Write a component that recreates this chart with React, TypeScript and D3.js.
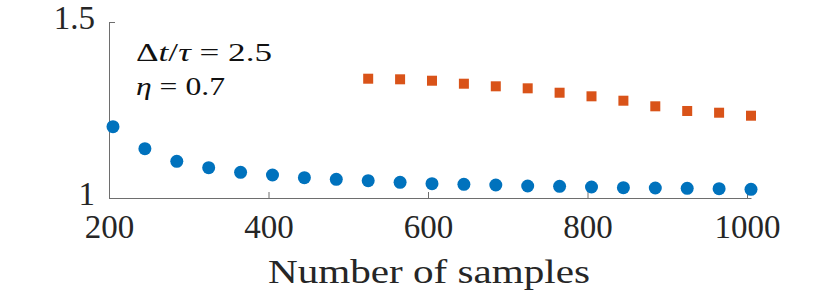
import { useEffect, useRef } from "react";
import * as d3 from "d3";

// sample counts for each marker
const samplesA = [205, 245, 285, 325, 365, 405, 445, 485, 525, 565, 605, 645, 685, 725, 765, 805, 845, 885, 925, 965, 1005];
const valuesA = [1.2026, 1.1401, 1.1043, 1.0861, 1.073, 1.0653, 1.0577, 1.0531, 1.0492, 1.0446, 1.0407, 1.0389, 1.0369, 1.0341, 1.0332, 1.0313, 1.0293, 1.0284, 1.0275, 1.0264, 1.0247];

const samplesB = [525, 565, 605, 645, 685, 725, 765, 805, 845, 885, 925, 965, 1005];
const valuesB = [1.3389, 1.3372, 1.3332, 1.3247, 1.3173, 1.3116, 1.2991, 1.2889, 1.2764, 1.2605, 1.2472, 1.2423, 1.2338];

const xTicks = [200, 400, 600, 800, 1000];
const yTicks = [1, 1.5];

const width = 830;
const height = 298;
const margin = { top: 22, right: 79, bottom: 100, left: 109 };

const font = "'Liberation Serif', serif";

export default function App() {
    const ref = useRef<SVGSVGElement>(null);

    useEffect(() => {
        const svg = d3.select(ref.current);
        svg.selectAll("*").remove();

        const x = d3.scaleLinear()
            .domain([200, 1005])
            .range([margin.left, width - margin.right]);
        const y = d3.scaleLinear()
            .domain([1, 1.5])
            .range([height - margin.bottom, margin.top]);

        const axisColor = "#6e6e6e";
        const textColor = "#262626";

        // x axis, ticks pointing inward like matlab
        const gx = svg.append("g")
            .attr("transform", `translate(0,${y(1)})`)
            .call(d3.axisBottom(x).tickValues(xTicks).tickFormat(d3.format("d")).tickSizeInner(-6).tickSizeOuter(0).tickPadding(17));
        gx.select(".domain").attr("stroke", axisColor);
        gx.selectAll(".tick line").attr("stroke", axisColor);
        gx.selectAll("text")
            .attr("font-family", font)
            .attr("font-size", 33)
            .attr("fill", textColor);

        const gy = svg.append("g")
            .attr("transform", `translate(${x(200)},0)`)
            .call(d3.axisLeft(y).tickValues(yTicks).tickFormat(d3.format("~g")).tickSizeInner(-6).tickSizeOuter(0).tickPadding(14));
        gy.select(".domain").attr("stroke", axisColor);
        gy.selectAll(".tick line").attr("stroke", axisColor);
        gy.selectAll("text")
            .attr("font-family", font)
            .attr("font-size", 33)
            .attr("dy", "0.2em")
            .attr("fill", textColor);

        // x label
        svg.append("text")
            .attr("x", 268)
            .attr("y", 283)
            .attr("textLength", 322)
            .attr("lengthAdjust", "spacingAndGlyphs")
            .attr("font-family", font)
            .attr("font-size", 33)
            .attr("fill", textColor)
            .text("Number of samples");

        // annotation
        const note = svg.append("g")
            .attr("font-family", font)
            .attr("font-size", 26)
            .attr("fill", "#111");
        const l1 = note.append("text")
            .attr("x", 136).attr("y", 61)
            .attr("textLength", 136)
            .attr("lengthAdjust", "spacingAndGlyphs");
        l1.append("tspan").text("Δ");
        l1.append("tspan").attr("font-style", "italic").text("t");
        l1.append("tspan").text("/");
        l1.append("tspan").attr("font-style", "italic").text("τ");
        l1.append("tspan").text(" = 2.5");
        const l2 = note.append("text")
            .attr("x", 136).attr("y", 95)
            .attr("textLength", 89)
            .attr("lengthAdjust", "spacingAndGlyphs");
        l2.append("tspan").attr("font-style", "italic").text("η");
        l2.append("tspan").text(" = 0.7");

        // blue circles
        svg.append("g")
            .selectAll("circle")
            .data(samplesA.map((s, i) => ({ s, v: valuesA[i] })))
            .join("circle")
            .attr("cx", d => x(d.s))
            .attr("cy", d => y(d.v))
            .attr("r", 6.5)
            .attr("fill", "#0072BD");

        // orange squares
        const sq = 10;
        svg.append("g")
            .selectAll("rect")
            .data(samplesB.map((s, i) => ({ s, v: valuesB[i] })))
            .join("rect")
            .attr("x", d => x(d.s) - sq / 2)
            .attr("y", d => y(d.v) - sq / 2)
            .attr("width", sq)
            .attr("height", sq)
            .attr("fill", "#D95319");
    }, []);

    return (
        <div style={{ position: "absolute", left: 0, top: 0 }}>
            <svg ref={ref} width={width} height={height} style={{ background: "#fff", display: "block" }} />
        </div>
    );
}
